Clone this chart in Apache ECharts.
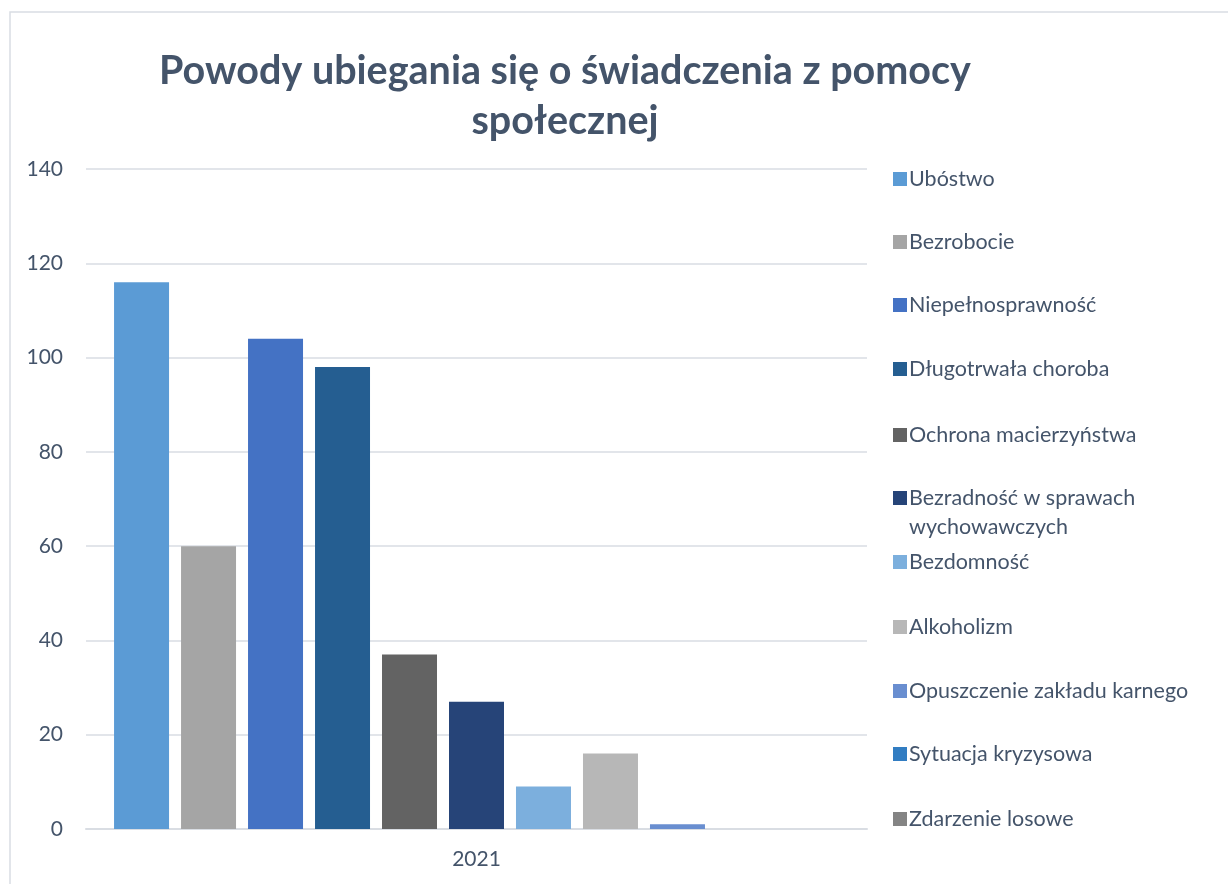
<!DOCTYPE html>
<html>
<head>
<meta charset="utf-8">
<script src="https://cdn.jsdelivr.net/npm/echarts@6/dist/echarts.min.js"></script>
<style>
  html, body { margin: 0; padding: 0; background: #fff; }
  #chart { width: 1228px; height: 884px; }
</style>
</head>
<body>
<div id="chart"></div>
<script>
const categories = ['2021'];
const seriesNames = [
  'Ubóstwo',
  'Bezrobocie',
  'Niepełnosprawność',
  'Długotrwała choroba',
  'Ochrona macierzyństwa',
  'Bezradność w sprawach wychowawczych',
  'Bezdomność',
  'Alkoholizm',
  'Opuszczenie zakładu karnego',
  'Sytuacja kryzysowa',
  'Zdarzenie losowe'
];
const seriesValues = [116, 60, 104, 98, 37, 27, 9, 16, 1, 0, 0];
const seriesColors = [
  '#5B9BD5', '#A5A5A5', '#4472C4', '#255E91', '#636363', '#264478',
  '#7CAFDD', '#B7B7B7', '#698ED0', '#327DC2', '#848484'
];
const yTicks = { min: 0, max: 140, interval: 20 };

// centre line of each legend entry (Excel style fixed slots)
const legendCenters = [179, 242, 305, 369, 435, 498, 562, 627, 691, 754, 819];

const textColor = '#44546A';
const gridColor = '#D9DDE3';
const LH = 29;

const chart = echarts.init(document.getElementById('chart'));

const legends = seriesNames.map((name, i) => {
  const wrapped = name === 'Bezradność w sprawach wychowawczych';
  return {
    data: [name],
    orient: 'vertical',
    left: 893,
    top: wrapped ? legendCenters[i] - LH * 1.5 : legendCenters[i] - LH / 2,
    padding: 0,
    itemWidth: 14,
    itemHeight: 14,
    itemGap: 0,
    icon: 'rect',
    selectedMode: false,
    formatter: n => wrapped ? ' \nBezradność w sprawach\nwychowawczych' : n,
    textStyle: {
      fontFamily: 'Lato',
      fontSize: 21.5,
      lineHeight: LH,
      color: textColor,
      padding: [0, 0, 0, -3]
    }
  };
});

const option = {
  backgroundColor: '#fff',
  animation: false,
  title: {
    text: 'Powody ubiegania się o świadczenia z pomocy\nspołecznej',
    left: 565,
    top: 46,
    padding: 0,
    textAlign: 'center',
    textStyle: {
      fontFamily: 'Lato',
      fontSize: 39.5,
      fontWeight: 'bold',
      lineHeight: 50,
      color: textColor
    }
  },
  graphic: [{
    type: 'rect',
    shape: { x: 10, y: 12, width: 1240, height: 900 },
    style: { fill: 'none', stroke: '#D9DDE3', lineWidth: 1.5 },
    silent: true,
    z: -1
  }],
  legend: legends,
  grid: { left: 86, right: 361, top: 169, bottom: 55 },
  xAxis: {
    type: 'category',
    data: categories,
    axisLine: { lineStyle: { color: gridColor, width: 2 } },
    axisTick: { show: false },
    axisLabel: { color: textColor, fontFamily: 'Lato', fontSize: 21, margin: 20 }
  },
  yAxis: {
    type: 'value',
    min: yTicks.min,
    max: yTicks.max,
    interval: yTicks.interval,
    axisLine: { show: false },
    axisTick: { show: false },
    axisLabel: { color: textColor, fontFamily: 'Lato', fontSize: 21, margin: 23 },
    splitLine: { lineStyle: { color: gridColor, width: 1.5 } }
  },
  series: seriesNames.map((name, i) => ({
    name: name,
    type: 'bar',
    data: [seriesValues[i]],
    barWidth: 55,
    barGap: '21.8%',
    itemStyle: { color: seriesColors[i] }
  }))
};

chart.setOption(option);
</script>
</body>
</html>
